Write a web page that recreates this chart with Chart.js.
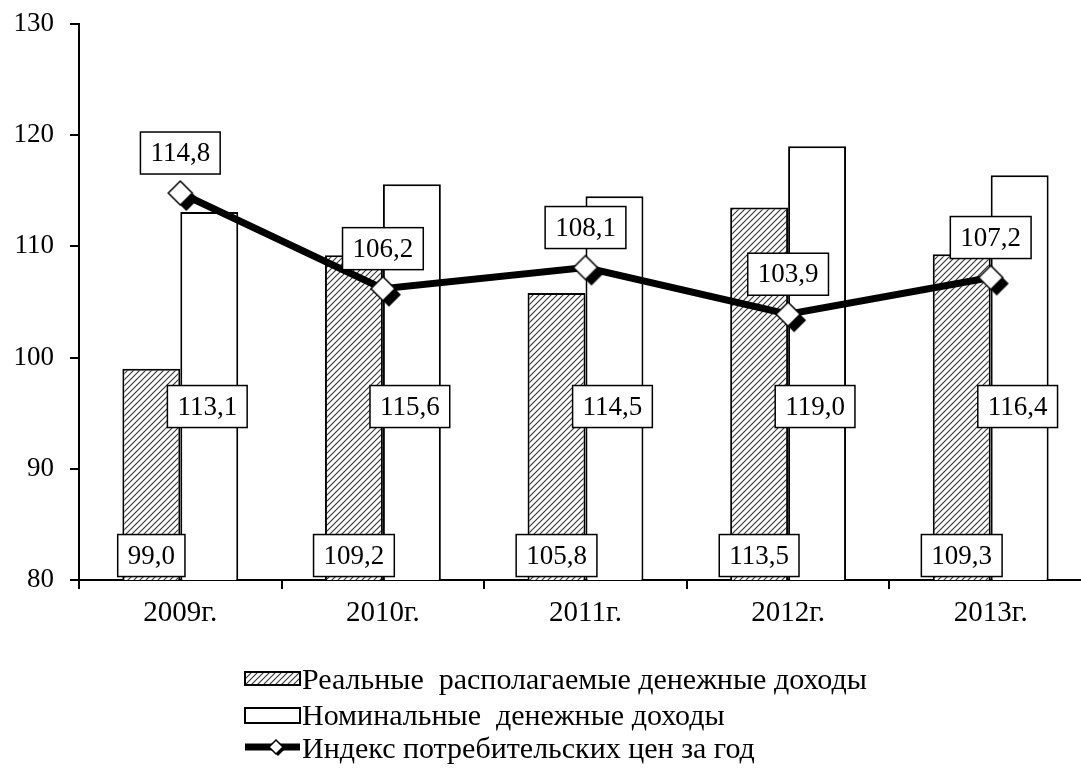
<!DOCTYPE html>
<html>
<head>
<meta charset="utf-8">
<script src="https://cdn.jsdelivr.net/npm/chart.js@4.4.1/dist/chart.umd.min.js"></script>
<style>
  html, body { margin: 0; padding: 0; background: #fff; overflow: hidden; }
  #wrap { width: 1095px; height: 769px; }
  #chart { width: 1095px; height: 769px; }
</style>
</head>
<body>
<div id="wrap"><canvas id="chart" width="1095" height="769"></canvas></div>
<script>
const years = ['2009г.', '2010г.', '2011г.', '2012г.', '2013г.'];
const realIncome = [99.0, 109.2, 105.8, 113.5, 109.3];
const nominalIncome = [113.1, 115.6, 114.5, 119.0, 116.4];
const cpi = [114.8, 106.2, 108.1, 103.9, 107.2];
const seriesNames = [
    'Реальные  располагаемые денежные доходы',
    'Номинальные  денежные доходы',
    'Индекс потребительских цен за год'
];
const yTicks = [80, 90, 100, 110, 120, 130];

const serif = '"Liberation Serif", "Times New Roman", serif';
const fmt = v => v.toFixed(1).replace('.', ',');

// hatch fill for the real income bars
const makeHatch = () => {
    const c = document.createElement('canvas');
    c.width = 6; c.height = 6;
    const g = c.getContext('2d');
    g.fillStyle = '#fff';
    g.fillRect(0, 0, 6, 6);
    g.strokeStyle = '#333';
    g.lineWidth = 1.1;
    g.beginPath();
    g.moveTo(-1, 7); g.lineTo(7, -1);
    g.moveTo(-1, 1); g.lineTo(1, -1);
    g.moveTo(5, 7); g.lineTo(7, 5);
    g.stroke();
    return document.getElementById('chart').getContext('2d').createPattern(c, 'repeat');
};
const hatch = makeHatch();

// white diamond with a black shadow below right
const makeDiamond = (half, shift) => {
    const size = (half + shift) * 2 + 4;
    const c = document.createElement('canvas');
    c.width = size; c.height = size;
    const g = c.getContext('2d');
    const m = size / 2;
    const diamond = (cx, cy) => {
        g.beginPath();
        g.moveTo(cx, cy - half); g.lineTo(cx + half, cy);
        g.lineTo(cx, cy + half); g.lineTo(cx - half, cy);
        g.closePath();
    };
    g.fillStyle = '#000';
    diamond(m + shift, m + shift);
    g.fill();
    g.fillStyle = '#fff';
    g.strokeStyle = '#000';
    g.lineWidth = 1.5;
    diamond(m, m);
    g.fill();
    g.stroke();
    return c;
};
const bigDiamond = makeDiamond(12, 6);
const smallDiamond = makeDiamond(7, 2);

const drawTag = (ctx, text, x, y) => {
    ctx.save();
    ctx.font = '27px ' + serif;
    const w = ctx.measureText(text).width + 20;
    const h = 42;
    ctx.fillStyle = '#fff';
    ctx.fillRect(x - w / 2, y - h / 2, w, h);
    ctx.strokeStyle = '#000';
    ctx.lineWidth = 1.5;
    ctx.strokeRect(x - w / 2, y - h / 2, w, h);
    ctx.fillStyle = '#000';
    ctx.textAlign = 'center';
    ctx.textBaseline = 'middle';
    ctx.fillText(text, x, y + 1);
    ctx.restore();
};

const valueTags = {
    id: 'valueTags',
    afterDatasetsDraw(chart) {
        const ctx = chart.ctx;
        const y = chart.scales.y;
        const lineMeta = chart.getDatasetMeta(0);
        const realMeta = chart.getDatasetMeta(1);
        const nomMeta = chart.getDatasetMeta(2);
        realIncome.forEach((v, i) => drawTag(ctx, fmt(v), realMeta.data[i].x, y.getPixelForValue(82.2)));
        nominalIncome.forEach((v, i) => drawTag(ctx, fmt(v), nomMeta.data[i].x - 2, y.getPixelForValue(95.6)));
        cpi.forEach((v, i) => drawTag(ctx, fmt(v), lineMeta.data[i].x, lineMeta.data[i].y - 40));
    }
};

const sideLegend = {
    id: 'sideLegend',
    afterDraw(chart) {
        const ctx = chart.ctx;
        const left = 245, boxW = 55, textX = 302;
        const rows = [689, 725, 758];
        ctx.save();
        ctx.font = '30px ' + serif;
        ctx.fillStyle = '#000';
        ctx.textAlign = 'left';
        ctx.textBaseline = 'alphabetic';
        seriesNames.forEach((name, i) => ctx.fillText(name, textX, rows[i]));

        ctx.strokeStyle = '#000';
        ctx.lineWidth = 2;
        ctx.fillStyle = hatch;
        ctx.fillRect(left, rows[0] - 17, boxW, 13);
        ctx.strokeRect(left, rows[0] - 17, boxW, 13);
        ctx.fillStyle = '#fff';
        ctx.fillRect(left, rows[1] - 17, boxW, 15);
        ctx.strokeRect(left, rows[1] - 17, boxW, 15);

        ctx.lineWidth = 7;
        ctx.beginPath();
        ctx.moveTo(left, rows[2] - 11);
        ctx.lineTo(left + boxW, rows[2] - 11);
        ctx.stroke();
        ctx.drawImage(smallDiamond, left + 31 - smallDiamond.width / 2, rows[2] - 11 - smallDiamond.height / 2);
        ctx.restore();
    }
};

// keep tick labels from pushing the plot area around
const noScalePadding = s => {
    s.paddingTop = 0;
    s.paddingBottom = 0;
    s.paddingLeft = 0;
    s.paddingRight = 0;
};

const chartConfig = {
    type: 'bar',
    data: {
        labels: years,
        datasets: [{
            type: 'line',
            label: seriesNames[2],
            data: cpi,
            order: 0,
            borderColor: '#000',
            borderWidth: 7,
            tension: 0,
            pointStyle: bigDiamond,
            pointRadius: 12
        }, {
            label: seriesNames[0],
            data: realIncome,
            order: 1,
            backgroundColor: hatch,
            borderColor: '#000',
            borderWidth: 2
        }, {
            label: seriesNames[1],
            data: nominalIncome,
            order: 1,
            backgroundColor: '#fff',
            borderColor: '#000',
            borderWidth: 2
        }]
    },
    options: {
        responsive: false,
        animation: false,
        events: [],
        datasets: {
            bar: {categoryPercentage: 0.572, barPercentage: 1}
        },
        // canvas is wider than the window: the plot runs past the right edge, as in the scan
        layout: {autoPadding: false, padding: {top: 24, right: 3, bottom: 139, left: 0}},
        plugins: {
            legend: {display: false},
            tooltip: {enabled: false}
        },
        scales: {
            y: {
                min: yTicks[0],
                max: yTicks[yTicks.length - 1],
                afterFit: s => { s.width = 79; noScalePadding(s); },
                ticks: {
                    stepSize: yTicks[1] - yTicks[0],
                    padding: 16,
                    color: '#000',
                    font: {family: serif, size: 27}
                },
                grid: {drawOnChartArea: false, tickLength: 9, color: '#000', lineWidth: 2},
                border: {color: '#000', width: 2}
            },
            x: {
                afterFit: s => { s.height = 50; noScalePadding(s); },
                ticks: {
                    padding: 7,
                    color: '#000',
                    font: {family: serif, size: 29}
                },
                grid: {drawOnChartArea: false, tickLength: 9, color: '#000', lineWidth: 2},
                border: {color: '#000', width: 2}
            }
        }
    },
    plugins: [valueTags, sideLegend]
};

new Chart(document.getElementById('chart'), chartConfig);
</script>
</body>
</html>
